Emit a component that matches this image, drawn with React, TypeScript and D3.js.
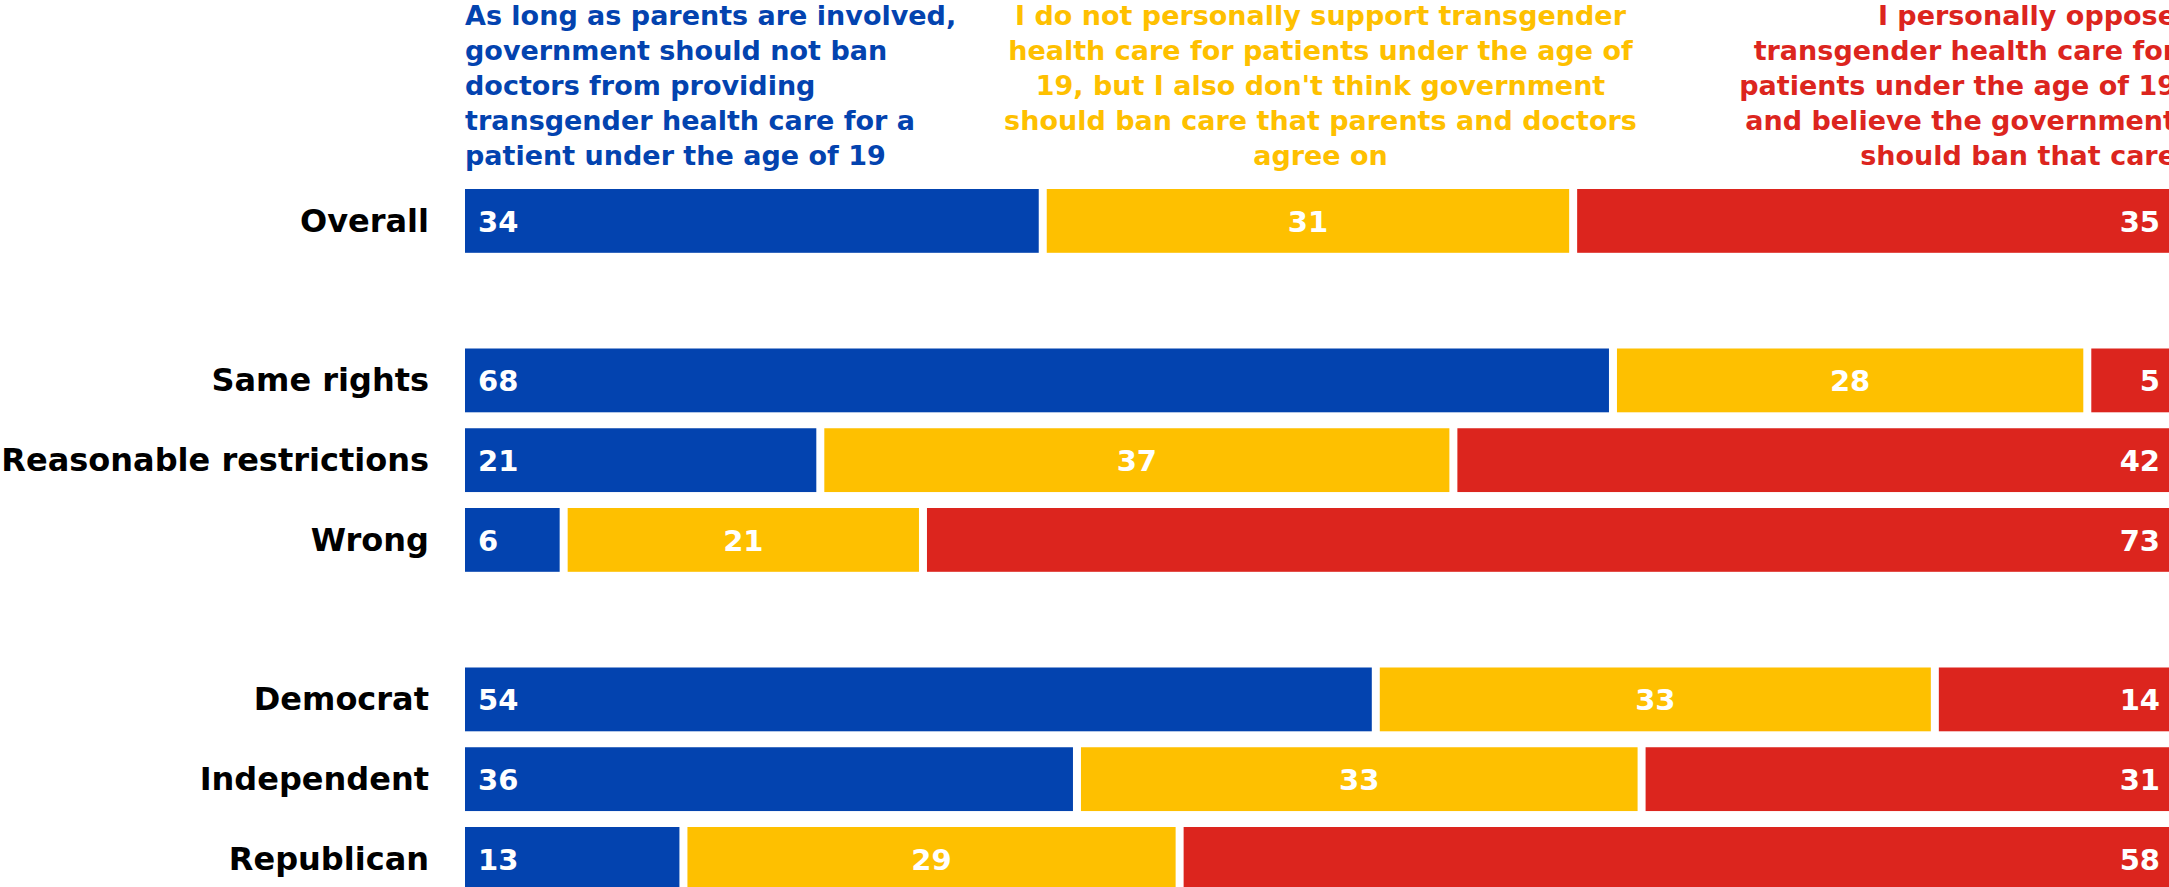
import React from "react";
import * as d3 from "d3";

const categories = ["Overall", "Same rights", "Reasonable restrictions", "Wrong", "Democrat", "Independent", "Republican"];
const rowSlots = ["Overall", "_gap1", "Same rights", "Reasonable restrictions", "Wrong", "_gap2", "Democrat", "Independent", "Republican"];
const allowValues = [34, 68, 21, 6, 54, 36, 13];
const personalValues = [31, 28, 37, 21, 33, 33, 29];
const banValues = [35, 5, 42, 73, 14, 31, 58];

const seriesNames = ["allow", "personal", "ban"];
const seriesColors = ["#0343af", "#fec000", "#dc251e"];
const headerAllow = [
  "As long as parents are involved,",
  "government should not ban",
  "doctors from providing",
  "transgender health care for a",
  "patient under the age of 19",
];
const headerPersonal = [
  "I do not personally support transgender",
  "health care for patients under the age of",
  "19, but I also don't think government",
  "should ban care that parents and doctors",
  "agree on",
];
const headerBan = [
  "I personally oppose",
  "transgender health care for",
  "patients under the age of 19",
  "and believe the government",
  "should ban that care",
];

const W = 2169;
const H = 887;
const FONT = "'DejaVu Sans', 'Open Sans', sans-serif";

export default function App() {
  const left = 465;
  const right = 2176;
  const gap = 8;
  const top = 189;
  const step = 79.75;

  const y = d3.scaleBand<string>().domain(rowSlots).range([top, top + step * (rowSlots.length - 0.2)]).paddingInner(0.2).paddingOuter(0);
  const series = [allowValues, personalValues, banValues];

  const rows = categories.map((cat, i) => {
    const vals = series.map((s) => s[i]);
    const total = d3.sum(vals);
    const x = d3.scaleLinear().domain([0, total]).range([left, right]);
    let acc = 0;
    const segs = vals.map((v, j) => {
      const x0 = x(acc);
      acc += v;
      const x1 = x(acc);
      return { v, j, x0, x1, last: j === vals.length - 1 };
    });
    return { cat, segs };
  });

  const lineH = 35;
  const headerBase = 25;
  const headerSize = 27;

  return (
    <svg width={W} height={H} style={{ position: "absolute", left: 0, top: 0, display: "block" }} fontFamily={FONT}>
      <rect x={0} y={0} width={W} height={H} fill="#ffffff" />
      <g fontWeight={700} fontSize={headerSize}>
        {headerAllow.map((t, i) => (
          <text key={"a" + i} x={left} y={headerBase + i * lineH} fill={seriesColors[0]} textAnchor="start">{t}</text>
        ))}
        {headerPersonal.map((t, i) => (
          <text key={"p" + i} x={(left + right) / 2} y={headerBase + i * lineH} fill={seriesColors[1]} textAnchor="middle">{t}</text>
        ))}
        {headerBan.map((t, i) => (
          <text key={"b" + i} x={right} y={headerBase + i * lineH} fill={seriesColors[2]} textAnchor="end">{t}</text>
        ))}
      </g>
      {rows.map((r) => {
        const by = y(r.cat) as number;
        const bh = y.bandwidth();
        const cy = by + bh / 2;
        return (
          <g key={r.cat}>
            <text x={429} y={cy} textAnchor="end" dominantBaseline="central" fontSize={32} fontWeight={700} fill="#000000">{r.cat}</text>
            {r.segs.map((s) => {
              const w = s.last ? s.x1 - s.x0 : s.x1 - s.x0 - gap;
              let lx = s.x0 + 13;
              let anchor: "start" | "middle" | "end" = "start";
              if (s.j === 1) { lx = s.x0 + w / 2; anchor = "middle"; }
              if (s.j === 2) { lx = s.x1 - 16; anchor = "end"; }
              return (
                <g key={seriesNames[s.j]}>
                  <rect x={s.x0} y={by} width={w} height={bh} fill={seriesColors[s.j]} />
                  <text x={lx} y={cy + 1} textAnchor={anchor} dominantBaseline="central" fontSize={29} fontWeight={700} fill="#ffffff">{s.v}</text>
                </g>
              );
            })}
          </g>
        );
      })}
    </svg>
  );
}
